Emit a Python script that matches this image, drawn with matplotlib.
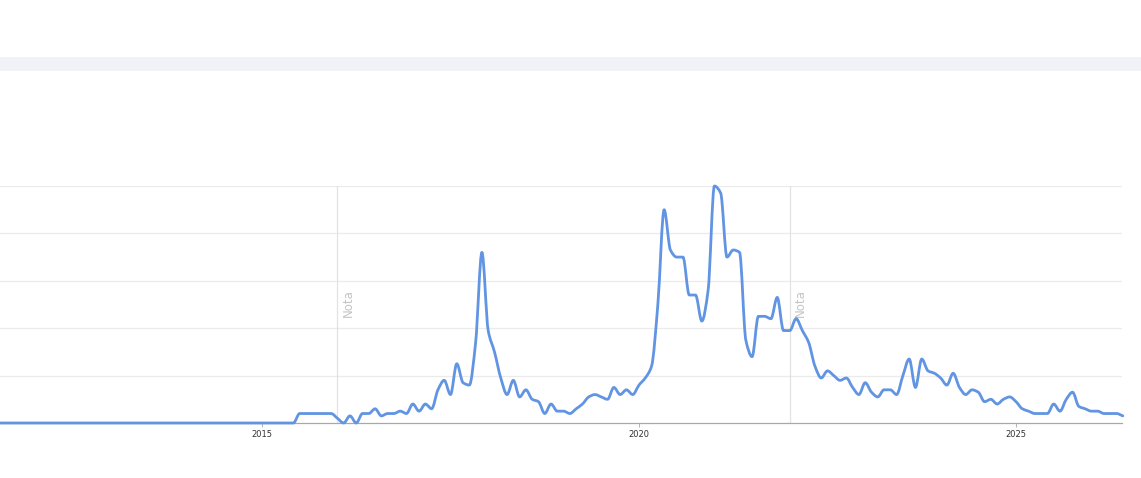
import matplotlib
matplotlib.use("Agg")
import matplotlib.pyplot as plt
import numpy as np
from matplotlib.patches import Rectangle, PathPatch
from matplotlib.path import Path

# Monthly interest values (Google-Trends style, 0-100), Jan 2011 .. Jun 2026
start_year = 2011
values_2011_2014 = [0] * 48
values_2015 = [0, 0, 0, 0, 0, 0, 4, 4, 4, 4, 4, 4]
values_2016 = [2, 0, 3, 0, 4, 4, 6, 3, 4, 4, 5, 4]
values_2017 = [8, 5, 8, 6, 14, 18, 12, 25, 17, 16, 34, 72]
values_2018 = [39, 30, 19, 12, 18, 11, 14, 10, 9, 4, 8, 5]
values_2019 = [5, 4, 6, 8, 11, 12, 11, 10, 15, 12, 14, 12]
values_2020 = [16, 19, 24, 50, 90, 73, 70, 70, 54, 54, 43, 56]
values_2021 = [100, 97, 70, 73, 72, 35, 28, 45, 45, 44, 53, 39]
values_2022 = [39, 44, 39, 34, 24, 19, 22, 20, 18, 19, 15, 12]
values_2023 = [17, 13, 11, 14, 14, 12, 20, 27, 15, 27, 22, 21]
values_2024 = [19, 16, 21, 15, 12, 14, 13, 9, 10, 8, 10, 11]
values_2025 = [9, 6, 5, 4, 4, 4, 8, 5, 10, 13, 7, 6]
values_2026 = [5, 5, 4, 4, 4, 3]

values = (values_2011_2014 + values_2015 + values_2016 + values_2017 + values_2018
          + values_2019 + values_2020 + values_2021 + values_2022 + values_2023
          + values_2024 + values_2025 + values_2026)
dates = [start_year + i / 12 for i in range(len(values))]

tick_years = [2015, 2020, 2025]
note_dates = [2016.0, 2022.0]
note_label = "Nota"


def monotone_path(xs, ys):
    """Monotone cubic (Fritsch-Carlson) curve through the data, as Bezier path."""
    xs = np.asarray(xs, float)
    ys = np.asarray(ys, float)
    h = np.diff(xs)
    d = np.diff(ys) / h
    m = np.zeros_like(ys)
    m[0], m[-1] = d[0], d[-1]
    for k in range(1, len(ys) - 1):
        if d[k - 1] * d[k] <= 0:
            m[k] = 0.0
        else:
            w1 = 2 * h[k] + h[k - 1]
            w2 = h[k] + 2 * h[k - 1]
            m[k] = (w1 + w2) / (w1 / d[k - 1] + w2 / d[k])
    verts = [(xs[0], ys[0])]
    codes = [Path.MOVETO]
    for k in range(len(xs) - 1):
        dx = h[k] / 3
        verts += [(xs[k] + dx, ys[k] + m[k] * dx),
                  (xs[k + 1] - dx, ys[k + 1] - m[k + 1] * dx),
                  (xs[k + 1], ys[k + 1])]
        codes += [Path.CURVE4] * 3
    return Path(verts, codes)


W, H = 1141, 478
fig = plt.figure(figsize=(W / 100, H / 100), dpi=100)
fig.patch.set_facecolor("white")

# top grey band
fig.patches.append(Rectangle((0, 1 - 71 / H), 1, 14 / H, transform=fig.transFigure,
                             facecolor="#f1f2f8", edgecolor="none", zorder=0))

ax_left, ax_right = 0, 1122
ax_top, ax_bottom = 186, 423
ax = fig.add_axes([ax_left / W, 1 - ax_bottom / H, (ax_right - ax_left) / W,
                   (ax_bottom - ax_top) / H])
ax.set_facecolor("none")

x_min = 2015 - 262 / 75.4
x_max = 2015 + (1122 - 262) / 75.4
ax.set_xlim(x_min, x_max)
ax.set_ylim(0, 100)

for gy in [20, 40, 60, 80, 100]:
    ax.axhline(gy, color="#ebebeb", lw=0.9, zorder=1)

for nd in note_dates:
    ax.axvline(nd, color="#e3e3e3", lw=0.9, zorder=1)
    ax.text(nd + 0.055, 50.5, note_label, rotation=90, ha="left", va="center",
            fontsize=8.5, color="#c4c4c4", family="DejaVu Sans")

curve = PathPatch(monotone_path(dates, values), facecolor="none", edgecolor="#6194e2",
                  lw=2.0, joinstyle="round", capstyle="round", zorder=3, clip_on=False)
ax.add_patch(curve)

for s in ["top", "right", "left"]:
    ax.spines[s].set_visible(False)
ax.spines["bottom"].set_color("#a8a8a8")
ax.spines["bottom"].set_linewidth(0.9)

ax.set_yticks([])
ax.set_xticks(tick_years)
ax.set_xticklabels([str(y) for y in tick_years], fontsize=6, color="#333333")
ax.tick_params(axis="x", length=3, width=0.6, color="#a8a8a8", pad=2)

fig.savefig("out.png", dpi=100, facecolor="white")
